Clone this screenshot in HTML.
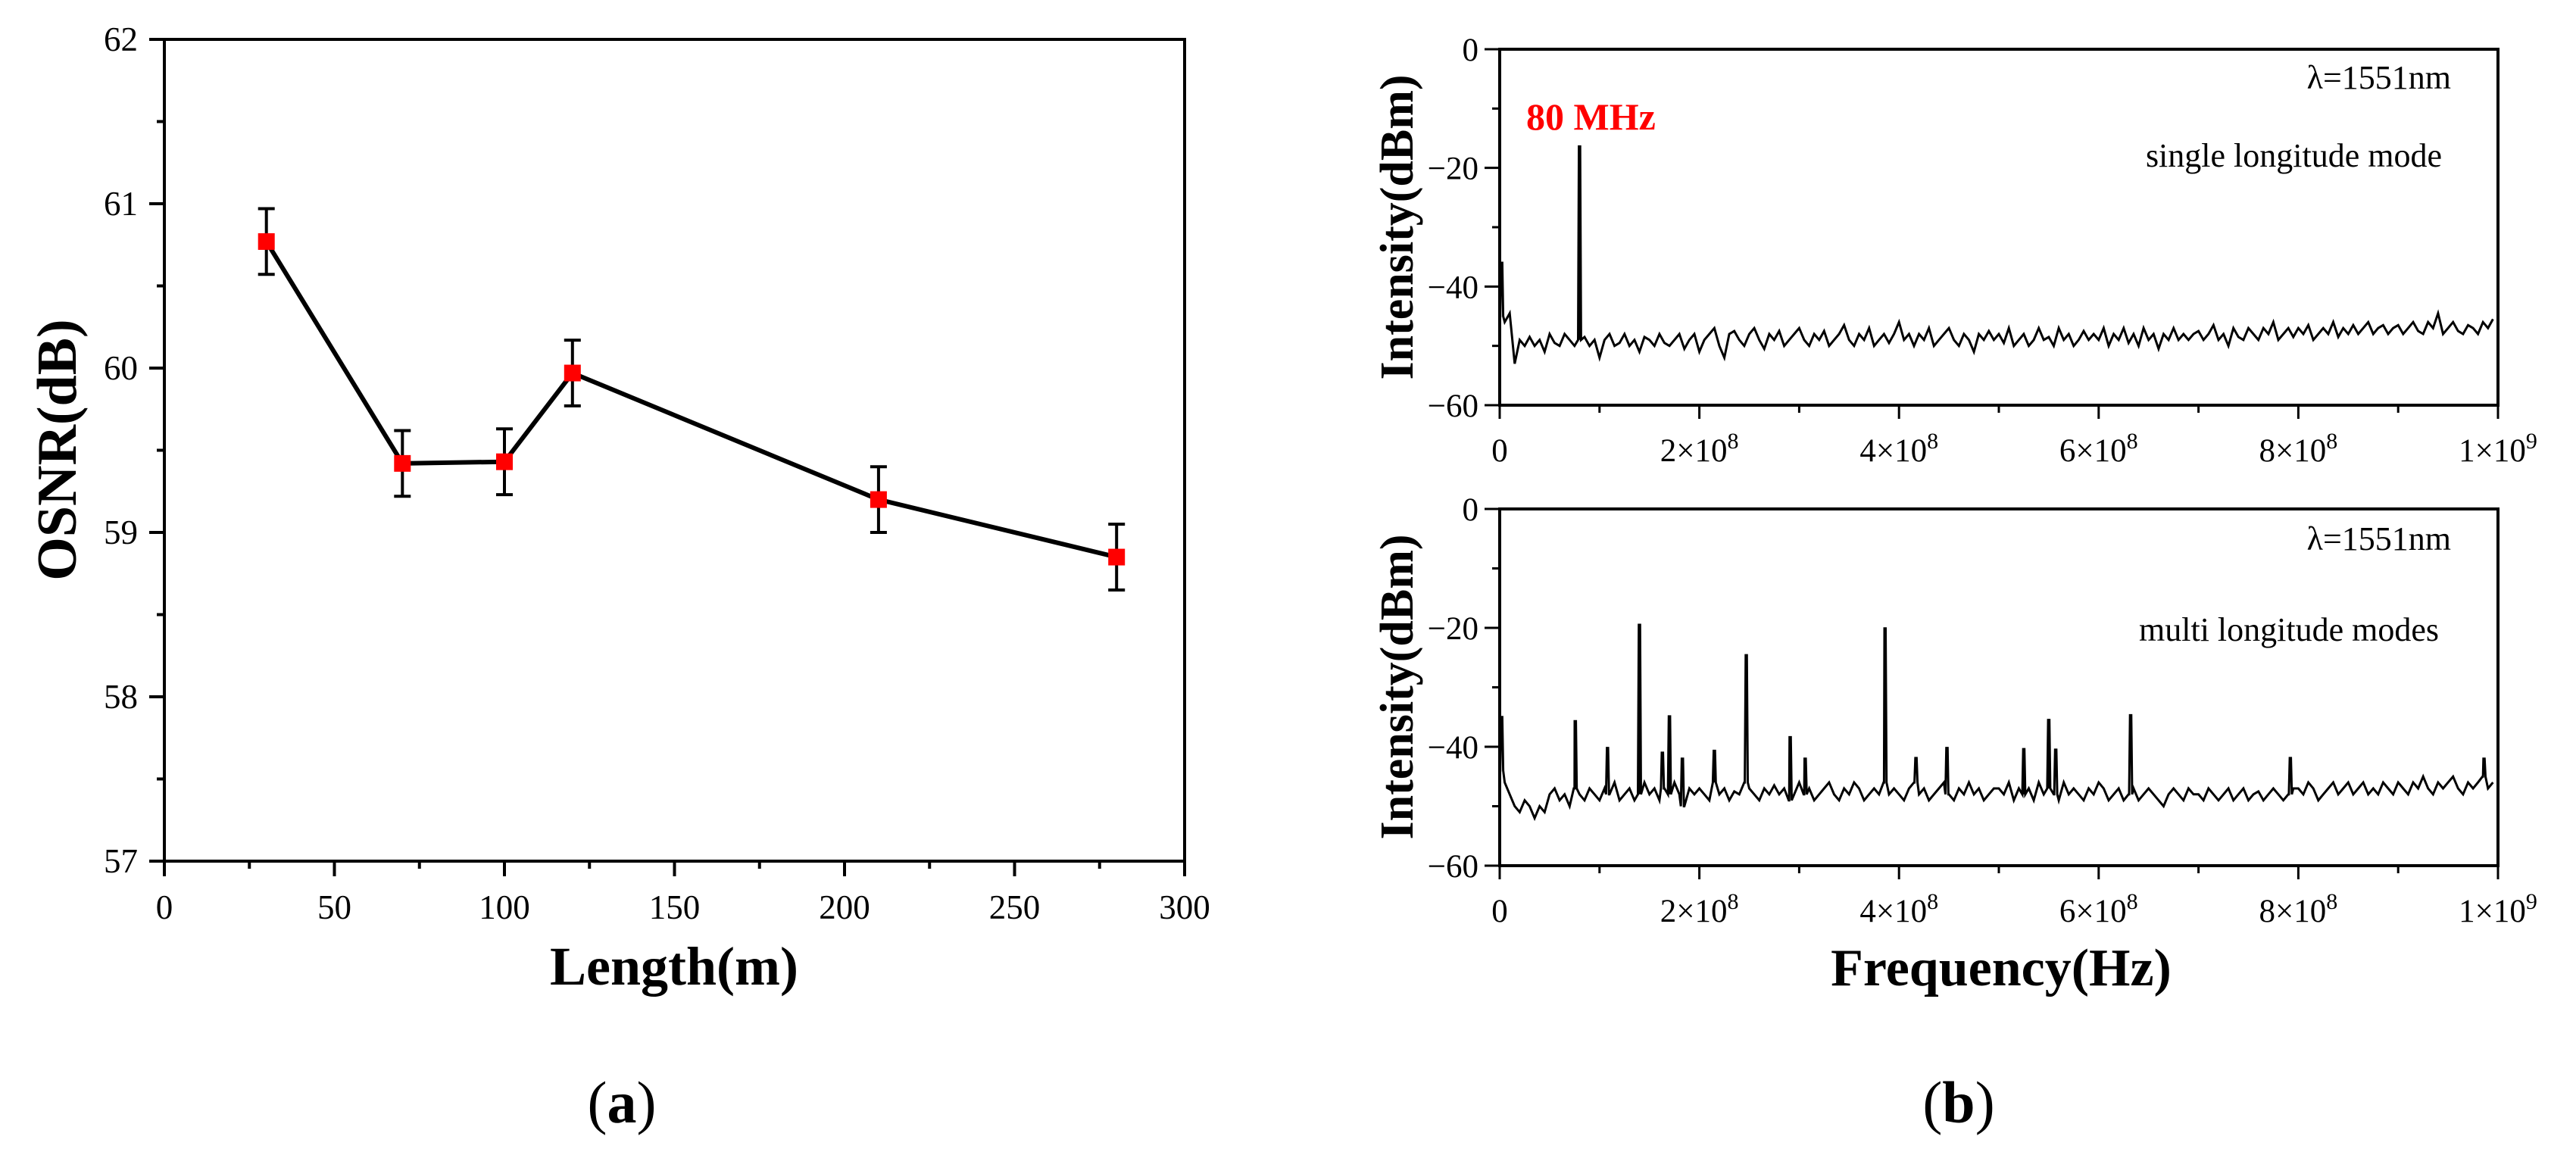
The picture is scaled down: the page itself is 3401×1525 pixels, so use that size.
<!DOCTYPE html>
<html><head><meta charset="utf-8"><style>
html,body{margin:0;padding:0;background:#fff;}
svg{display:block;font-family:"Liberation Serif","DejaVu Serif",serif;}
</style></head><body>
<svg id="fig" width="3401" height="1525" viewBox="0 0 3401 1525" xmlns="http://www.w3.org/2000/svg">
<rect width="3401" height="1525" fill="#fff"/>
<g id="pa"></g>
<g id="pb1"></g>
<g id="pb2"></g>
<text x="890" y="1300" font-size="72" font-weight="bold" text-anchor="middle">Length(m)</text>
<text transform="translate(100,594) rotate(-90)" font-size="74" font-weight="bold" text-anchor="middle">OSNR(dB)</text>
<text x="821" y="1482" font-size="78" text-anchor="middle">(<tspan font-weight="bold">a</tspan>)</text>
<text x="2642" y="1301" font-size="70" font-weight="bold" text-anchor="middle">Frequency(Hz)</text>
<text x="2586" y="1482" font-size="78" text-anchor="middle">(<tspan font-weight="bold">b</tspan>)</text>
<text transform="translate(1865,300) rotate(-90)" font-size="62" font-weight="bold" text-anchor="middle">Intensity(dBm)</text>
<text transform="translate(1865,907) rotate(-90)" font-size="62" font-weight="bold" text-anchor="middle">Intensity(dBm)</text>
<text x="3236" y="117" font-size="44" text-anchor="end">λ=1551nm</text>
<text x="3224" y="220" font-size="44" text-anchor="end">single longitude mode</text>
<text x="2015" y="171" font-size="50" font-weight="bold" fill="#f00">80 MHz</text>
<text x="3236" y="726" font-size="44" text-anchor="end">λ=1551nm</text>
<text x="3220" y="846" font-size="44" text-anchor="end">multi longitude modes</text>
</svg>
<script>
// ---- Panel (a) data ----
const lengths = [30, 70, 100, 120, 210, 280];
const osnr = [60.77, 59.42, 59.43, 59.97, 59.20, 58.85];
const osnrErr = [0.2, 0.2, 0.2, 0.2, 0.2, 0.2];
const xTicksA = [0, 50, 100, 150, 200, 250, 300];
const yTicksA = [57, 58, 59, 60, 61, 62];

// ---- Panel (b) data ----
const freqStep = 5e6;
const topBase = [
-45,-46,-44.5,-53,-49,-50,-48.5,-50,-49,-51,-48,-49.5,-50,-48,-49,-50,-49,-48.5,-50,-49,
-52,-49,-48,-50,-49.5,-48,-50,-49,-51,-48.5,-49,-50,-48,-49.5,-50,-49,-48,-50.5,-49,-48,
-51,-49,-48,-47,-50,-52,-48,-47.5,-49,-50,-48,-47,-49,-50.5,-48,-49,-47.5,-50,-49,-48,
-47,-49,-50,-48,-49,-47.5,-50,-49,-48,-46.5,-49,-50,-48,-49,-47,-50,-49,-48,-49.5,-48,
-46,-49,-48,-50,-48,-49,-47,-50,-49,-48,-47,-49,-50,-48,-49,-51,-48,-49,-47.5,-49,
-48,-49.5,-47,-50,-49,-48,-50,-49,-47,-49,-48.5,-50,-47,-49,-48,-50,-49,-47.5,-49,-48,
-49,-47,-50,-48,-49,-47,-49.5,-48,-50,-47,-49,-48,-50.5,-48,-49,-47,-49,-48,-49,-48,
-47.5,-49,-48,-46.5,-49,-48,-50,-47,-48.5,-49,-47,-48,-49,-47,-48,-46,-49,-48,-47,-48.5,
-47,-48,-46.5,-49,-48,-47,-48,-46,-48.5,-47,-48,-46.5,-48,-47,-46,-48,-47,-46.5,-48,-47,
-46.5,-48,-47,-46,-47.5,-48,-46,-47,-44.5,-48,-47,-46,-47.5,-48,-46.5,-47,-48,-46,-47,-45.5];
const topPeakF = [2e6, 80e6];
const topPeakV = [-36, -16.2];
const botBase = [
-44,-46,-48,-50,-51,-49,-50,-52,-50,-51,-48,-47,-49,-48,-50,-47,-48,-49,-47,-48,
-49,-47,-48,-46,-49,-48,-47,-49,-48,-46,-48,-47,-49,-47,-48,-46,-48,-50,-47,-48,
-47,-48,-49,-46,-48,-47,-49,-47.5,-48,-46,-47,-48,-49,-47,-48,-46.5,-48,-47,-49,-48,
-46,-48,-47,-49,-48,-47,-46,-48,-49,-47,-48,-46,-47,-49,-48,-47,-48,-46,-48,-47,
-48,-49,-47,-46,-48,-47,-49,-48,-47,-46,-48,-49,-47,-48,-46,-48,-47,-49,-48,-47,
-47,-48,-46,-49,-47,-48,-47,-49,-46,-48,-47,-48,-49,-46,-48,-47,-48,-49,-47,-48,
-46,-47,-49,-48,-47,-49,-48,-47,-49,-48,-47,-48,-49,-50,-48,-47,-48,-49,-47,-48,
-48,-49,-47,-48,-49,-48,-47,-49,-48,-47,-49,-48,-47.5,-49,-48,-47,-48,-49,-48,-47,
-47,-48,-46,-47,-49,-48,-47,-46,-48,-47,-46,-48,-47,-46,-48,-47,-48,-46,-47,-48,
-46,-47,-48,-46,-47,-45,-47,-48,-46,-47,-46,-45,-47,-48,-46,-47,-46,-45,-47,-46];
const botPeakF = [2e6,75.7e6,108e6,140e6,163e6,170e6,183e6,215e6,247e6,291e6,306e6,386e6,417e6,448e6,525e6,550e6,557e6,632e6,792e6,986e6];
const botPeakV = [-35,-35.7,-40.2,-19.3,-41,-34.7,-42,-40.5,-24.6,-38.4,-42,-20.1,-41.9,-40.2,-40.2,-35.3,-40.5,-34.7,-41.9,-42];
const xTickValsB = [0, 2e8, 4e8, 6e8, 8e8, 1e9];
const xTickLabB = ["0", "2×10|8", "4×10|8", "6×10|8", "8×10|8", "1×10|9"];
const yTicksB = [0, -20, -40, -60];

const NS = "http://www.w3.org/2000/svg";
function mk(parent, tag, attrs, txt) {
  const e = document.createElementNS(NS, tag);
  for (const k in attrs) e.setAttribute(k, attrs[k]);
  if (txt !== undefined) e.textContent = txt;
  parent.appendChild(e);
  return e;
}

// ---- Panel (a) ----
(function () {
  const g = document.getElementById('pa');
  const L = 217, R = 1564, T = 52, B = 1137;
  const sx = v => L + (v - 0) / 300 * (R - L);
  const sy = v => B - (v - 57) / 5 * (B - T);
  const frame = mk(g, 'rect', {x: L, y: T, width: R - L, height: B - T, fill: 'none', stroke: '#000', 'stroke-width': 4});
  
  
  for (let v = 57; v <= 62.001; v += 0.5) {
    const major = Math.abs(v - Math.round(v)) < 1e-6;
    const t = mk(g, 'line', {x1: L, x2: L - (major ? 20 : 10), y1: sy(v), y2: sy(v), stroke: '#000', 'stroke-width': 4});
    
    
  }
  yTicksA.forEach(v => {
    const t = mk(g, 'text', {x: 182, y: sy(v) + 15, 'font-size': 45, 'text-anchor': 'end'}, String(v));
    
    
  });
  for (let v = 0; v <= 300; v += 25) {
    const major = v % 50 === 0;
    const t = mk(g, 'line', {x1: sx(v), x2: sx(v), y1: B, y2: B + (major ? 20 : 10), stroke: '#000', 'stroke-width': 4});
    
    
  }
  xTicksA.forEach(v => {
    const t = mk(g, 'text', {x: sx(v), y: 1213, 'font-size': 45, 'text-anchor': 'middle'}, String(v));
    
    
  });
  const line = mk(g, 'polyline', {points: lengths.map((x, i) => sx(x) + ',' + sy(osnr[i])).join(' '), fill: 'none', stroke: '#000', 'stroke-width': 6, 'stroke-linejoin': 'round'});
  
  
  lengths.forEach((x, i) => {
    const cx = sx(x), y1 = sy(osnr[i] + osnrErr[i]), y2 = sy(osnr[i] - osnrErr[i]);
    const eb = mk(g, 'path', {d: `M${cx},${y1}V${y2}M${cx - 11},${y1}H${cx + 11}M${cx - 11},${y2}H${cx + 11}`, stroke: '#000', 'stroke-width': 4, fill: 'none'});
    
    
    const m = mk(g, 'rect', {x: cx - 11, y: sy(osnr[i]) - 11, width: 22, height: 22, fill: '#f00'});
    
    
  });
})();

// ---- Panel (b) ----
function spectrum(gid, T, B, base, pF, pV) {
  const g = document.getElementById(gid);
  const L = 1980, R = 3298;
  const sx = f => L + f / 1e9 * (R - L);
  const sy = v => T + (0 - v) / 60 * (B - T);
  const frame = mk(g, 'rect', {x: L, y: T, width: R - L, height: B - T, fill: 'none', stroke: '#000', 'stroke-width': 4});
  
  
  for (let v = 0; v >= -60; v -= 10) {
    const major = v % 20 === 0;
    const t = mk(g, 'line', {x1: L, x2: L - (major ? 20 : 10), y1: sy(v), y2: sy(v), stroke: '#000', 'stroke-width': 3});
    
    
  }
  yTicksB.forEach(v => {
    const t = mk(g, 'text', {x: 1952, y: sy(v) + 15, 'font-size': 43, 'text-anchor': 'end'}, v === 0 ? '0' : '\u2212' + Math.abs(v));
    
    
  });
  for (let f = 0; f <= 1e9 + 1; f += 1e8) {
    const major = Math.round(f / 1e8) % 2 === 0;
    const t = mk(g, 'line', {x1: sx(f), x2: sx(f), y1: B, y2: B + (major ? 18 : 10), stroke: '#000', 'stroke-width': 3});
    
    
  }
  xTickValsB.forEach((f, i) => {
    const parts = xTickLabB[i].split('|');
    const t = mk(g, 'text', {x: sx(f), y: B + 74, 'font-size': 43, 'text-anchor': 'middle'});
    
    
    t.appendChild(document.createTextNode(parts[0]));
    if (parts[1]) {
      mk(t, 'tspan', {dy: -17, 'font-size': 30}, parts[1]);
    }
  });
  let pts = base.map((v, i) => [i * freqStep, v]);
  pF.forEach((f, k) => {
    const idx = Math.round(f / freqStep);
    const b = base[Math.min(idx, base.length - 1)];
    pts.push([f - 1.5e6, b], [f - 0.6e6, pV[k]], [f + 0.6e6, pV[k]], [f + 1.5e6, b]);
  });
  pts = pts.filter(p => p[0] >= 0 && p[0] <= 1e9).sort((a, b) => a[0] - b[0]);
  const tr = mk(g, 'polyline', {points: pts.map(p => sx(p[0]).toFixed(1) + ',' + sy(p[1]).toFixed(1)).join(' '), fill: 'none', stroke: '#000', 'stroke-width': 3, 'stroke-linejoin': 'miter'});
  
  
}
spectrum('pb1', 65, 535, topBase, topPeakF, topPeakV);
spectrum('pb2', 672, 1143, botBase, botPeakF, botPeakV);
</script>
</body></html>
